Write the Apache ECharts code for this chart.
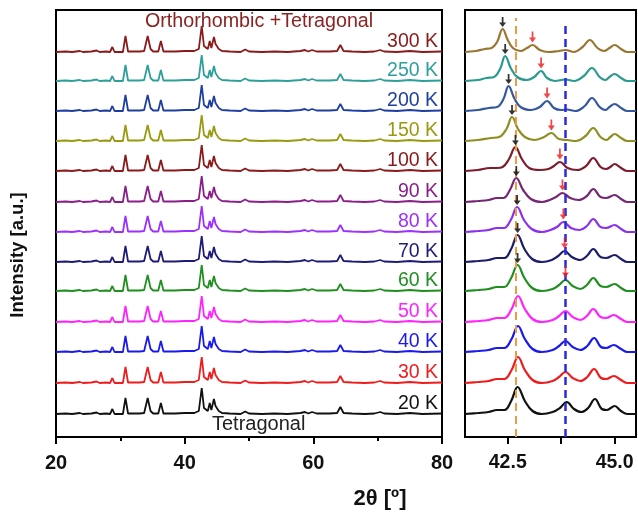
<!DOCTYPE html>
<html><head><meta charset="utf-8">
<script src="https://cdn.jsdelivr.net/npm/echarts@6/dist/echarts.min.js"></script>
<style>html,body{margin:0;padding:0;background:#fff}#c{width:638px;height:512px}</style>
</head><body><div id="c"></div>
<script>
// Temperatures (bottom to top)
const temps = ['20 K','30 K','40 K','50 K','60 K','70 K','80 K','90 K','100 K','150 K','200 K','250 K','300 K'];
// Stacking offsets (a.u.) for each temperature
const offsets = [23,54,85,115,146,175,205,235,266,296,326,356,385];
const leftColors = ['#111111','#ee1c1c','#1a1aee','#ff22ff','#1f8f1f','#1c1c78','#9b30ff','#8a1f8a','#8b1a1a','#9a9a10','#1f3fa0','#2f9f9a','#8b1a1a'];
const rightColors = ['#111111','#ee1c1c','#1a1aee','#ff22ff','#1f8f1f','#1c1c6a','#8a30ee','#742874','#7e1c2c','#8e8e22','#3557a0','#2a9a8e','#9a7632'];

// Full XRD pattern (2θ, relative intensity), 20–80°
const pattern = [[20,0],[21.5,0.5],[22.5,0],[23.7,1],[24.2,0],[25.5,0.5],[26.3,1.5],[26.8,0],[27.8,0.5],[28.4,0],[28.76,5],[29.1,0],[30.4,0],[30.8,16],[31.2,0.5],[33.0,0.5],[33.7,1],[34.25,16],[34.7,3],[35.1,0.5],[35.9,0.5],[36.3,11],[36.7,0.5],[38.5,0.5],[40,1],[41.5,1],[42.2,3],[42.65,26],[43.0,6],[43.3,4],[43.6,3],[43.9,11],[44.15,4],[44.55,15],[44.8,8],[45.0,9],[45.3,3],[45.8,1],[47,0.5],[48.7,0],[49.4,2.5],[50,0.5],[52,0],[54,0.5],[56,0],[58,1],[58.7,2],[59.2,0.5],[59.8,2],[60.5,0.5],[62.5,0.5],[63.7,1],[64.2,7],[64.7,1],[66,0.5],[68,0],[69.5,0.5],[70.4,2],[71,0.5],[73,0],[75,1],[77,0],[80,0.5]];

// Zoomed region 41.5–45.5° for each temperature (2θ, relative intensity)
const r20  = [[41.5,0],[41.8,1],[42.05,2],[42.25,4],[42.42,4],[42.58,13],[42.73,27],[42.9,13],[43.08,3],[43.3,0],[43.55,2],[43.72,6],[43.88,12],[44.05,5],[44.22,2],[44.38,6],[44.54,15],[44.7,5],[44.82,4],[45.0,8],[45.15,3],[45.3,0],[45.5,0]];
const r30  = [[41.5,0],[41.8,1],[42.05,2],[42.25,4],[42.42,4],[42.59,13],[42.74,26],[42.9,13],[43.08,3],[43.3,0],[43.55,2],[43.7,6],[43.85,11],[44.02,5],[44.2,2],[44.36,6],[44.52,14],[44.68,5],[44.8,4],[44.98,7],[45.15,3],[45.3,0],[45.5,0]];
const r40  = [[41.5,0],[41.8,1],[42.05,2],[42.25,4],[42.42,4],[42.59,13],[42.74,26],[42.9,13],[43.08,3],[43.3,0],[43.55,2],[43.7,6],[43.85,11],[44.02,5],[44.2,2],[44.36,6],[44.52,14],[44.68,5],[44.8,4],[44.98,7],[45.15,3],[45.3,0],[45.5,0]];
const r50  = [[41.5,0],[41.8,1],[42.05,2],[42.25,4],[42.42,4],[42.59,13],[42.74,26],[42.9,13],[43.08,3],[43.3,0],[43.55,2],[43.7,6],[43.85,11],[44.02,5],[44.2,2],[44.35,6],[44.5,13],[44.67,5],[44.8,4],[44.98,7],[45.15,3],[45.3,0],[45.5,0]];
const r60  = [[41.5,0],[41.8,1],[42.05,2],[42.25,4],[42.42,4],[42.58,13],[42.73,26],[42.89,13],[43.07,3],[43.3,0],[43.55,2],[43.7,6],[43.85,11],[44.02,5],[44.2,2],[44.35,6],[44.5,13],[44.67,5],[44.8,4],[45.0,7],[45.15,3],[45.3,0],[45.5,0]];
const r70  = [[41.5,0],[41.8,1],[42.05,2],[42.25,4],[42.42,4],[42.58,13],[42.73,27],[42.89,13],[43.07,3],[43.3,0],[43.53,2],[43.68,6],[43.83,11],[44.0,5],[44.2,2],[44.35,6],[44.5,13],[44.67,5],[44.8,4],[45.0,7],[45.15,3],[45.3,0],[45.5,0]];
const r80  = [[41.5,0],[41.8,1],[42.05,2],[42.25,4],[42.41,4],[42.57,12],[42.72,25],[42.88,12],[43.06,3],[43.3,0],[43.5,2],[43.65,5],[43.8,10],[43.98,4],[44.18,2],[44.35,6],[44.5,13],[44.67,5],[44.8,4],[45.0,7],[45.15,3],[45.3,0],[45.5,0]];
const r90  = [[41.5,0],[41.8,1],[42.05,2],[42.25,4],[42.4,4],[42.55,12],[42.7,24],[42.86,12],[43.04,3],[43.3,0],[43.48,2],[43.63,5],[43.78,9],[43.96,4],[44.16,2],[44.35,6],[44.5,13],[44.67,5],[44.8,4],[45.0,7],[45.15,3],[45.3,0],[45.5,0]];
const r100 = [[41.5,0],[41.8,1],[42.09,3],[42.25,3],[42.38,4],[42.53,12],[42.68,24],[42.83,12],[43.0,3],[43.25,1],[43.45,2],[43.58,5],[43.72,9],[43.9,3],[44.12,1],[44.33,5],[44.5,13],[44.67,4],[44.8,2],[44.9,4],[45.0,7],[45.15,3],[45.3,0],[45.5,0]];
const r150 = [[41.5,0],[41.8,1],[42.1,3],[42.3,4],[42.47,12],[42.6,24],[42.74,12],[42.9,4],[43.12,1],[43.35,4],[43.52,8],[43.7,2],[43.9,1],[44.1,0],[44.32,5],[44.5,13],[44.67,4],[44.8,1],[44.9,4],[45.0,7],[45.15,3],[45.3,0],[45.5,0]];
const r200 = [[41.5,0],[41.8,1],[42.05,3],[42.25,4],[42.4,12],[42.52,25],[42.65,13],[42.8,4],[43.05,1],[43.25,4],[43.42,10],[43.58,3],[43.75,1],[43.88,1.5],[44.08,0],[44.3,5],[44.47,13],[44.65,4],[44.78,1],[44.88,4],[45.0,7],[45.15,3],[45.3,0],[45.5,0]];
const r250 = [[41.5,0],[41.8,1],[42.0,3],[42.18,4],[42.32,12],[42.44,25],[42.57,13],[42.72,4],[42.95,1],[43.12,4],[43.28,10],[43.42,3],[43.6,0],[43.85,1.5],[44.05,0],[44.28,5],[44.47,13],[44.65,4],[44.78,1],[44.88,4],[45.0,7],[45.15,3],[45.3,0],[45.5,0]];
const r300 = [[41.5,0],[41.75,1],[41.96,3],[42.12,4],[42.25,10],[42.38,23],[42.5,12],[42.62,4],[42.8,1],[42.95,4],[43.08,7],[43.25,2],[43.45,0],[43.7,1],[43.85,2],[44.05,0],[44.25,5],[44.42,12],[44.6,4],[44.75,1],[44.88,4],[45.0,7],[45.15,3],[45.3,0],[45.5,0]];
const rightData = [r20,r30,r40,r50,r60,r70,r80,r90,r100,r150,r200,r250,r300];

// Marked peaks (arrows): temperature index, 2θ, relative intensity
const mainPeakArrows = [[4,42.73,26],[5,42.73,27],[6,42.72,25],[7,42.7,24],[8,42.68,24],[9,42.6,24],[10,42.52,25],[11,42.44,25],[12,42.38,23]];
const secondPeakArrows = [[4,43.85,11],[5,43.83,11],[6,43.8,10],[7,43.78,9],[8,43.72,9],[9,43.52,8],[10,43.42,10],[11,43.28,10],[12,43.08,7]];
// Reference lines (2θ)
const refLines = [42.68, 43.84];

const xTicksLeft = [20,40,60,80];
const xLabelsRight = [42.5, 45.0];

const FONT = '"Liberation Sans", Arial, sans-serif';
const series = [];
temps.forEach((t,i)=>{
  series.push({
    type:'line', xAxisIndex:0, yAxisIndex:0, showSymbol:false, silent:true,
    data: pattern.map(p=>[p[0], p[1]+offsets[i]]),
    lineStyle:{color:leftColors[i], width:1.8}, itemStyle:{color:leftColors[i]},
    endLabel:{show:true, formatter:t, color:leftColors[i], fontFamily:FONT, fontSize:19.5, align:'right', verticalAlign:'middle', distance:0, offset:[-4,-9.5]},
    z:2
  });
  series.push({
    type:'line', xAxisIndex:1, yAxisIndex:1, showSymbol:false, silent:true, smooth:0.4,
    data: rightData[i].map(p=>[p[0], p[1]+offsets[i]]),
    lineStyle:{color:rightColors[i], width:2.2}, itemStyle:{color:rightColors[i]}, z:2
  });
});
const arrowPath = 'path://M3,0 L5,0 L5,6 L8,6 L4,11 L0,6 L3,6 Z';
series.push({
  type:'scatter', xAxisIndex:1, yAxisIndex:1, silent:true, symbol:arrowPath, symbolSize:[7,10], symbolOffset:[0,-7],
  itemStyle:{color:'#000'}, z:5,
  data: mainPeakArrows.map(a=>[a[1], a[2]+offsets[a[0]]])
});
series.push({
  type:'scatter', xAxisIndex:1, yAxisIndex:1, silent:true, symbol:arrowPath, symbolSize:[7,11], symbolOffset:[0,-8],
  itemStyle:{color:'#f01818'}, z:5,
  data: secondPeakArrows.map(a=>[a[1], a[2]+offsets[a[0]]])
});
series.push({
  type:'line', xAxisIndex:1, yAxisIndex:1, data:[], silent:true,
  markLine:{silent:true, symbol:'none', label:{show:false}, animation:false,
    data:[
      [{coord:[refLines[0],0], lineStyle:{color:'#ee9a48', width:2, type:[8,5]}},{coord:[refLines[0],419]}],
      [{coord:[refLines[1],0], lineStyle:{color:'#2a2ae0', width:2.5, type:[8,5]}},{coord:[refLines[1],415]}]
    ]}
});

const chart = echarts.init(document.getElementById('c'), null, {renderer:'canvas'});
chart.setOption({
  animation:false,
  backgroundColor:'#fff',
  grid:[
    {left:56, right:196, top:10, bottom:75, show:true, borderColor:'#000', borderWidth:2, backgroundColor:'transparent'},
    {left:465, right:2, top:10, bottom:75, show:true, borderColor:'#000', borderWidth:2, backgroundColor:'transparent'}
  ],
  xAxis:[
    {type:'value', gridIndex:0, min:20, max:80, interval:20,
     axisLine:{lineStyle:{color:'#000', width:2}}, splitLine:{show:false},
     axisTick:{show:true, inside:false, length:7, lineStyle:{color:'#000', width:2}},
     minorTick:{show:true, splitNumber:2, length:4, lineStyle:{color:'#000', width:2}},
     axisLabel:{color:'#111', fontFamily:FONT, fontSize:20, fontWeight:'bold', margin:16,
       formatter:v=> xTicksLeft.includes(v) ? String(v) : ''}},
    {type:'value', gridIndex:1, min:41.5, max:45.5,
     axisLine:{lineStyle:{color:'#000', width:2}}, splitLine:{show:false},
     axisTick:{show:true, length:7, lineStyle:{color:'#000', width:2}, customValues:[42.5,43.75,45]},
     axisLabel:{color:'#111', fontFamily:FONT, fontSize:19.5, fontWeight:'bold', margin:16,
       customValues:xLabelsRight, formatter:v=>Number(v).toFixed(1)}}
  ],
  yAxis:[
    {type:'value', gridIndex:0, min:0, max:427, show:false},
    {type:'value', gridIndex:1, min:0, max:427, show:false}
  ],
  graphic:[
    {type:'text', left:145, top:12, silent:true, style:{text:'Orthorhombic +Tetragonal', fill:'#8b2323', font:'19.7px '+FONT}},
    {type:'text', left:212, top:414, silent:true, style:{text:'Tetragonal', fill:'#222', font:'20px '+FONT}},
    {type:'text', x:18, y:255, rotation:Math.PI/2, silent:true, style:{text:'Intensity [a.u.]', fill:'#111', font:'bold 18.5px '+FONT, align:'center', verticalAlign:'middle'}},
    {type:'text', x:380, y:499, silent:true, style:{text:'2θ [º]', fill:'#111', font:'bold 22px '+FONT, align:'center', verticalAlign:'middle'}}
  ],
  series: series
});
</script></body></html>
